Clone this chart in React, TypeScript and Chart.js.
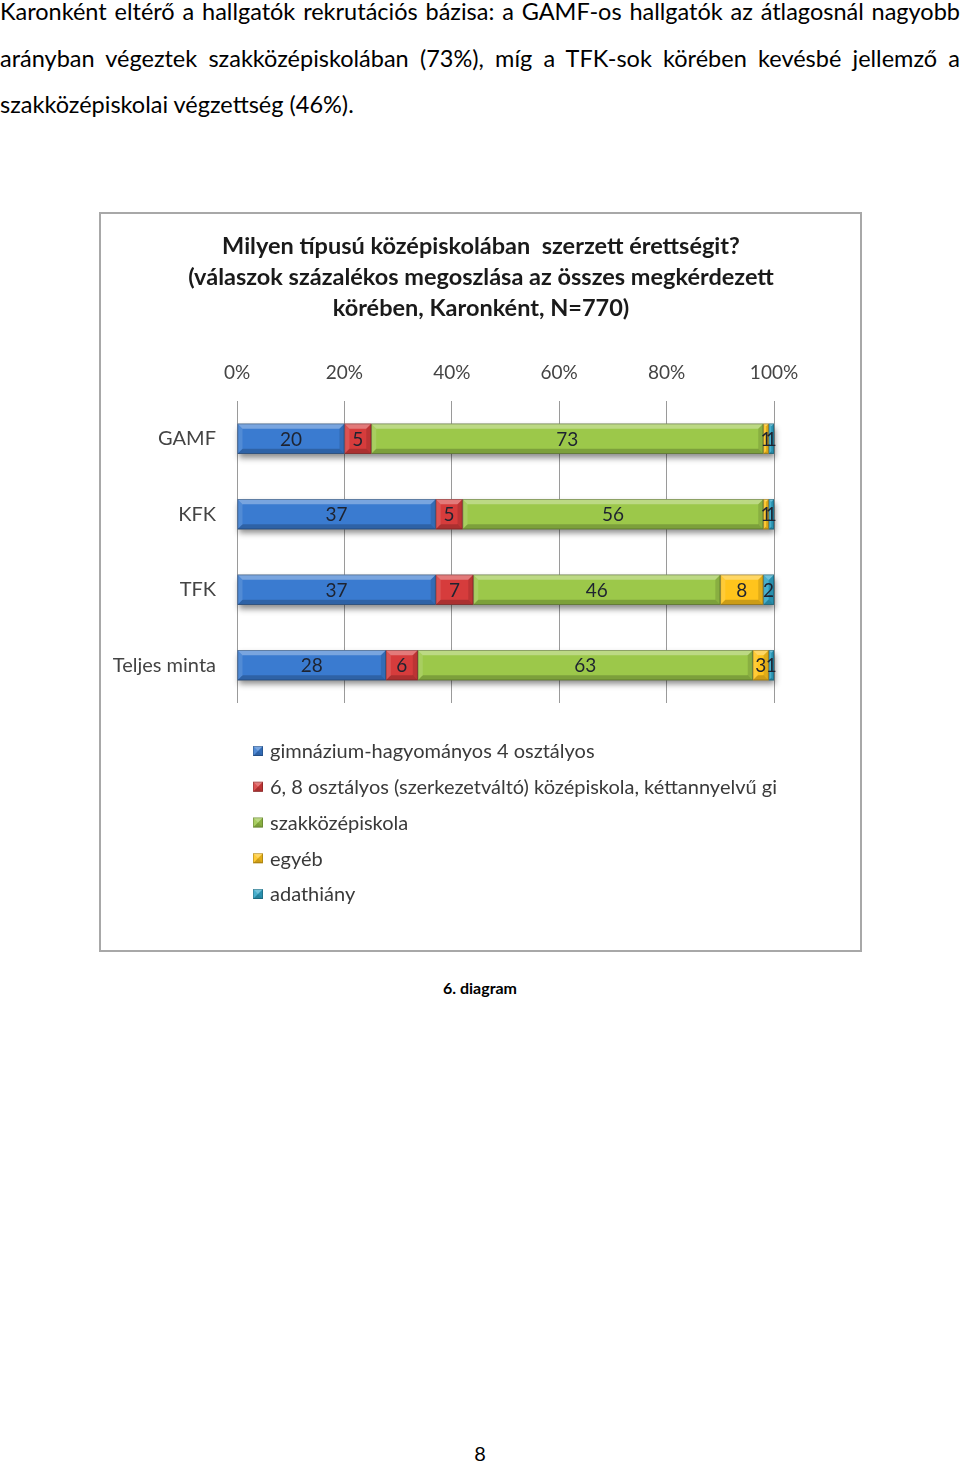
import React, { useEffect, useRef } from "react";
import { Chart, registerables } from "chart.js";

Chart.register(...registerables);

// ---- Data ----
const categories = ["GAMF", "KFK", "TFK", "Teljes minta"];
const seriesNames = [
  "gimnázium-hagyományos 4 osztályos",
  "6, 8 osztályos (szerkezetváltó) középiskola, kéttannyelvű gi",
  "szakközépiskola",
  "egyéb",
  "adathiány",
];
const gimnazium = [20, 37, 37, 28];
const szerkezetvalto = [5, 5, 7, 6];
const szakkozep = [73, 56, 46, 63];
const egyeb = [1, 1, 8, 3];
const adathiany = [1, 1, 2, 1];
const xTickValues = [0, 20, 40, 60, 80, 100];

const titleLines = [
  "Milyen típusú középiskolában  szerzett érettségit?",
  "(válaszok százalékos megoszlása az összes megkérdezett",
  "körében, Karonként, N=770)",
];

const seriesColors = ["#3a7bd0", "#d63c3c", "#9cc84a", "#ffc41c", "#2fa4c6"];

const FONT = "Lato, 'Open Sans', sans-serif";

const rawSeries = [gimnazium, szerkezetvalto, szakkozep, egyeb, adathiany];
// 100% stacked: share of each category's total
const totals = categories.map((_, j) => rawSeries.reduce((s, arr) => s + arr[j], 0));
const shareSeries = rawSeries.map((arr) => arr.map((v, j) => (v / totals[j]) * 100));

function bevelRect(ctx: CanvasRenderingContext2D, x0: number, y0: number, x1: number, y1: number) {
  const w = x1 - x0;
  const h = y1 - y0;
  const b = Math.max(0, Math.min(5, w / 2, h / 2));
  ctx.fillStyle = "rgba(255,255,255,0.32)";
  ctx.beginPath();
  ctx.moveTo(x0, y0);
  ctx.lineTo(x1, y0);
  ctx.lineTo(x1 - b, y0 + b);
  ctx.lineTo(x0 + b, y0 + b);
  ctx.closePath();
  ctx.fill();
  ctx.fillStyle = "rgba(0,0,0,0.2)";
  ctx.beginPath();
  ctx.moveTo(x0, y1);
  ctx.lineTo(x1, y1);
  ctx.lineTo(x1 - b, y1 - b);
  ctx.lineTo(x0 + b, y1 - b);
  ctx.closePath();
  ctx.fill();
  ctx.fillStyle = "rgba(255,255,255,0.12)";
  ctx.beginPath();
  ctx.moveTo(x0, y0);
  ctx.lineTo(x0 + b, y0 + b);
  ctx.lineTo(x0 + b, y1 - b);
  ctx.lineTo(x0, y1);
  ctx.closePath();
  ctx.fill();
  ctx.fillStyle = "rgba(0,0,0,0.12)";
  ctx.beginPath();
  ctx.moveTo(x1, y0);
  ctx.lineTo(x1 - b, y0 + b);
  ctx.lineTo(x1 - b, y1 - b);
  ctx.lineTo(x1, y1);
  ctx.closePath();
  ctx.fill();
  ctx.strokeStyle = "rgba(0,0,0,0.25)";
  ctx.lineWidth = 0.8;
  ctx.strokeRect(x0 + 0.4, y0 + 0.4, w - 0.8, h - 0.8);
}

const decorPlugin = {
  id: "decor",
  beforeDatasetsDraw(chart: any) {
    const ctx = chart.ctx as CanvasRenderingContext2D;
    const metas = chart.getSortedVisibleDatasetMetas();
    for (let j = 0; j < categories.length; j++) {
      let x0 = Infinity;
      let x1 = -Infinity;
      let y0 = 0;
      let y1 = 0;
      metas.forEach((m: any) => {
        const p = m.data[j].getProps(["x", "y", "base", "height"], true);
        x0 = Math.min(x0, p.base, p.x);
        x1 = Math.max(x1, p.base, p.x);
        y0 = p.y - p.height / 2;
        y1 = p.y + p.height / 2;
      });
      ctx.save();
      ctx.shadowColor = "rgba(0,0,0,0.45)";
      ctx.shadowBlur = 6;
      ctx.shadowOffsetY = 4;
      ctx.shadowOffsetX = 1;
      ctx.fillStyle = "#777";
      ctx.fillRect(x0, y0, x1 - x0, y1 - y0);
      ctx.restore();
    }
  },
  afterDatasetsDraw(chart: any) {
    const ctx = chart.ctx as CanvasRenderingContext2D;
    const metas = chart.getSortedVisibleDatasetMetas();
    ctx.save();
    metas.forEach((m: any) => {
      m.data.forEach((el: any) => {
        const p = el.getProps(["x", "y", "base", "height"], true);
        const x0 = Math.min(p.base, p.x);
        const x1 = Math.max(p.base, p.x);
        bevelRect(ctx, x0, p.y - p.height / 2, x1, p.y + p.height / 2);
      });
    });
    ctx.font = `19px ${FONT}`;
    ctx.fillStyle = "#1e2330";
    ctx.textAlign = "center";
    ctx.textBaseline = "middle";
    metas.forEach((m: any) => {
      const raw = rawSeries[m.index];
      m.data.forEach((el: any, j: number) => {
        const p = el.getProps(["x", "y", "base"], true);
        ctx.fillText(String(raw[j]), (p.x + p.base) / 2, p.y + 1);
      });
    });
    ctx.restore();
  },
  afterDraw(chart: any) {
    const ctx = chart.ctx as CanvasRenderingContext2D;
    ctx.save();
    ctx.font = `bold 23.5px ${FONT}`;
    ctx.fillStyle = "#1a1a1a";
    ctx.textAlign = "center";
    ctx.textBaseline = "middle";
    titleLines.forEach((t, i) => {
      ctx.fillText(t, 380, 32 + i * 31);
    });
    ctx.font = `20px ${FONT}`;
    ctx.textAlign = "left";
    seriesNames.forEach((name, i) => {
      const cy = 537 + i * 35.75;
      const sx = 152;
      const sy = cy - 5;
      ctx.fillStyle = seriesColors[i];
      ctx.fillRect(sx, sy, 10, 10);
      bevelRect(ctx, sx, sy, sx + 10, sy + 10);
      ctx.fillStyle = "#3a3a3a";
      ctx.fillText(name, 169, cy + 1);
    });
    ctx.restore();
  },
};

export default function App() {
  const canvasRef = useRef<HTMLCanvasElement | null>(null);

  useEffect(() => {
    const canvas = canvasRef.current;
    if (!canvas) return;
    const chart = new Chart(canvas, {
      type: "bar",
      data: {
        labels: categories,
        datasets: seriesNames.map((name, i) => ({
          label: name,
          data: shareSeries[i],
          backgroundColor: seriesColors[i],
          borderWidth: 0,
          barPercentage: 0.4,
          categoryPercentage: 1,
        })),
      },
      options: {
        indexAxis: "y",
        responsive: false,
        animation: false,
        devicePixelRatio: 1,
        layout: { padding: { top: 129, right: 86, bottom: 247, left: 0 } },
        plugins: {
          legend: { display: false },
          title: { display: false },
          tooltip: { enabled: false },
        },
        scales: {
          x: {
            type: "linear",
            position: "top",
            stacked: true,
            min: 0,
            max: 100,
            afterBuildTicks: (scale: any) => {
              scale.ticks = xTickValues.map((v) => ({ value: v }));
            },
            afterFit: (scale: any) => {
              scale.height = 58;
            },
            grid: { color: "#9a9a9a", lineWidth: 1, drawTicks: false },
            border: { display: false },
            ticks: {
              padding: 17,
              color: "#444",
              font: { family: FONT, size: 19 },
              callback: (v: any) => `${v}%`,
            },
          },
          y: {
            type: "category",
            stacked: true,
            afterFit: (scale: any) => {
              scale.width = 136;
            },
            grid: { display: false, drawTicks: false },
            border: { display: false },
            ticks: {
              padding: 21,
              color: "#444",
              font: { family: FONT, size: 20 },
            },
          },
        },
      },
      plugins: [decorPlugin],
    } as any);
    return () => chart.destroy();
  }, []);

  const lineStyle: React.CSSProperties = {
    position: "absolute",
    left: 0,
    width: 960,
    fontSize: 23.5,
    lineHeight: "28px",
    textAlign: "justify",
    textAlignLast: "justify",
  };

  return (
    <div
      style={{
        position: "absolute",
        left: 0,
        top: 0,
        width: 960,
        height: 1464,
        background: "#fff",
        fontFamily: FONT,
        color: "#000",
        overflow: "hidden",
      }}
    >
      <div style={{ ...lineStyle, top: -3 }}>
        Karonként eltérő a hallgatók rekrutációs bázisa: a GAMF-os hallgatók az átlagosnál nagyobb
      </div>
      <div style={{ ...lineStyle, top: 43.5 }}>
        arányban végeztek szakközépiskolában (73%), míg a TFK-sok körében kevésbé jellemző a
      </div>
      <div style={{ ...lineStyle, top: 90, textAlign: "left", textAlignLast: "left" }}>
        szakközépiskolai végzettség (46%).
      </div>

      <div
        style={{
          position: "absolute",
          left: 99,
          top: 212,
          width: 763,
          height: 740,
          border: "2px solid #a8a8a8",
          boxSizing: "border-box",
          background: "#fff",
        }}
      >
        <canvas ref={canvasRef} width={759} height={736} style={{ display: "block", width: 759, height: 736 }} />
      </div>

      <div
        style={{
          position: "absolute",
          left: 0,
          top: 978,
          width: 960,
          textAlign: "center",
          fontSize: 16,
          lineHeight: "20px",
          fontWeight: "bold",
        }}
      >
        6. diagram
      </div>
      <div
        style={{
          position: "absolute",
          left: 0,
          top: 1441,
          width: 960,
          textAlign: "center",
          fontSize: 20,
          lineHeight: "24px",
        }}
      >
        8
      </div>
    </div>
  );
}
